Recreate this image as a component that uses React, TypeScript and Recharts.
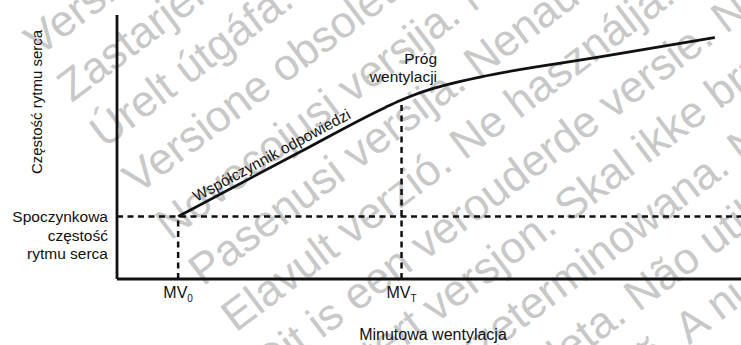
import React from "react";
import {
  LineChart,
  Line,
  XAxis,
  YAxis,
  ReferenceLine,
  ReferenceDot,
} from "recharts";

// minute ventilation (x) vs heart rate (y), arbitrary units 0..100
const ventilation = [9.8, 29.3, 43.0, 45.4, 47.8, 50.2, 53.4, 58.2, 77.4, 95.8];
const heartRate = [23.7, 48.1, 65.0, 67.6, 69.9, 71.8, 73.9, 76.5, 84.1, 91.5];

const markerValues = [9.8, 45.6];
const markerSubs = ["0", "T"];
const restRate = 23.7;
const thresholdRate = 67.2;

const restLabel = ["Spoczynkowa", "częstość", "rytmu serca"];
const thresholdLabel = ["Próg", "wentylacji"];
const slopeLabel = "Współczynnik odpowiedzi";
const xTitle = "Minutowa wentylacja";
const yTitle = "Częstość rytmu serca";

// background watermark, one phrase per diagonal line
const watermark = [
  "Version obsolète. Ne pas utiliser.",
  "Zastarjela verzija. Nemojte upotrebljavati.",
  "Úrelt útgáfa. Notið ekki.",
  "Versione obsoleta. Non utilizzare.",
  "Novecojusi versija. Neizmantot.",
  "Pasenusi versija. Nenaudokite.",
  "Elavult verzió. Ne használja!",
  "Dit is een verouderde versie. Niet gebruiken.",
  "Utdatert versjon. Skal ikke brukes.",
  "Wersja przeterminowana. Nie używać.",
  "Versão obsoleta. Não utilize.",
  "Versiune expirată. A nu se utiliza.",
  "Zastaraná verzia. Nepoužívať.",
];

const data = ventilation.map((mv, i) => ({ mv, hr: heartRate[i] }));

const FONT = "'Liberation Sans', Arial, sans-serif";
const INK = "#111";

const MvTick = (props: any) => {
  const { x, y, payload } = props;
  const idx = markerValues.indexOf(payload.value);
  return (
    <text
      x={x}
      y={y + 11}
      textAnchor="middle"
      fontFamily={FONT}
      fontSize={16}
      fill={INK}
    >
      MV
      <tspan dy={3.5} fontSize={10}>
        {markerSubs[idx]}
      </tspan>
    </text>
  );
};

const Watermark = () => (
  <svg
    width={741}
    height={345}
    style={{ position: "absolute", left: 0, top: 0 }}
  >
    {watermark.map((t, i) => {
      const x = 39 + i * 32.8;
      const y = 57 + i * 46;
      return (
        <text
          key={t}
          x={x}
          y={y}
          transform={`rotate(-37 ${x} ${y})`}
          fontFamily={FONT}
          fontSize={44}
          fill="#c8c8c8"
        >
          {t}
        </text>
      );
    })}
  </svg>
);

const App = () => {
  return (
    <div
      style={{
        position: "absolute",
        left: 0,
        top: 0,
        width: 741,
        height: 345,
        background: "#fff",
        overflow: "hidden",
      }}
    >
      <Watermark />
      <div style={{ position: "absolute", left: 0, top: 0 }}>
        <LineChart
          width={741}
          height={345}
          data={data}
          margin={{ top: 15, right: 0, bottom: 0, left: 0 }}
        >
          <XAxis
            type="number"
            dataKey="mv"
            domain={[0, 100]}
            ticks={markerValues}
            interval={0}
            tick={<MvTick />}
            tickLine={false}
            axisLine={{ stroke: INK, strokeWidth: 2.8 }}
            height={66}
            label={{
              content: (p: any) => {
                const vb = p.viewBox;
                return (
                  <text
                    x={vb.x + vb.width / 2 + 4}
                    y={vb.y + 61}
                    textAnchor="middle"
                    fontFamily={FONT}
                    fontSize={16}
                    fill={INK}
                  >
                    {xTitle}
                  </text>
                );
              },
            }}
          />
          <YAxis
            type="number"
            domain={[0, 100]}
            tick={false}
            tickLine={false}
            axisLine={{ stroke: INK, strokeWidth: 2.8 }}
            width={117}
            label={{
              content: (p: any) => {
                const vb = p.viewBox;
                const cx = vb.x + 42;
                const cy = vb.y + 87;
                return (
                  <text
                    x={cx}
                    y={cy}
                    transform={`rotate(-90 ${cx} ${cy})`}
                    textAnchor="middle"
                    fontFamily={FONT}
                    fontSize={15}
                    fill={INK}
                  >
                    {yTitle}
                  </text>
                );
              },
            }}
          />
          <ReferenceLine
            y={restRate}
            stroke={INK}
            strokeWidth={2.5}
            strokeDasharray="6 4.5"
            label={{
              content: (p: any) => {
                const vb = p.viewBox;
                return (
                  <text
                    textAnchor="end"
                    fontFamily={FONT}
                    fontSize={15.5}
                    fill={INK}
                  >
                    {restLabel.map((t, i) => (
                      <tspan key={t} x={vb.x - 9} y={vb.y + 5.8 + i * 18.5}>
                        {t}
                      </tspan>
                    ))}
                  </text>
                );
              },
            }}
          />
          <ReferenceLine
            segment={[
              { x: markerValues[0], y: 0 },
              { x: markerValues[0], y: restRate },
            ]}
            stroke={INK}
            strokeWidth={2.5}
            strokeDasharray="6 4.5"
          />
          <ReferenceLine
            segment={[
              { x: markerValues[1], y: 0 },
              { x: markerValues[1], y: thresholdRate },
            ]}
            stroke={INK}
            strokeWidth={2.5}
            strokeDasharray="6 4.5"
          />
          <Line
            type="monotone"
            dataKey="hr"
            stroke={INK}
            strokeWidth={2.8}
            dot={false}
            isAnimationActive={false}
          />
          <ReferenceDot
            x={markerValues[1]}
            y={thresholdRate}
            r={0}
            fill="none"
            stroke="none"
            label={{
              content: (p: any) => {
                const vb = p.viewBox;
                return (
                  <text
                    textAnchor="end"
                    fontFamily={FONT}
                    fontSize={15.5}
                    fill={INK}
                  >
                    {thresholdLabel.map((t, i) => (
                      <tspan key={t} x={vb.x + 35.5} y={vb.y - 38 + i * 18.5}>
                        {t}
                      </tspan>
                    ))}
                  </text>
                );
              },
            }}
          />
          <ReferenceDot
            x={ventilation[0]}
            y={heartRate[0]}
            r={0}
            fill="none"
            stroke="none"
            label={{
              content: (p: any) => {
                const vb = p.viewBox;
                const cx = vb.x + 96;
                const cy = vb.y - 56.5;
                return (
                  <text
                    x={cx}
                    y={cy}
                    transform={`rotate(-28.5 ${cx} ${cy})`}
                    textAnchor="middle"
                    fontFamily={FONT}
                    fontSize={15.5}
                    fill={INK}
                  >
                    {slopeLabel}
                  </text>
                );
              },
            }}
          />
        </LineChart>
      </div>
    </div>
  );
};

export default App;
